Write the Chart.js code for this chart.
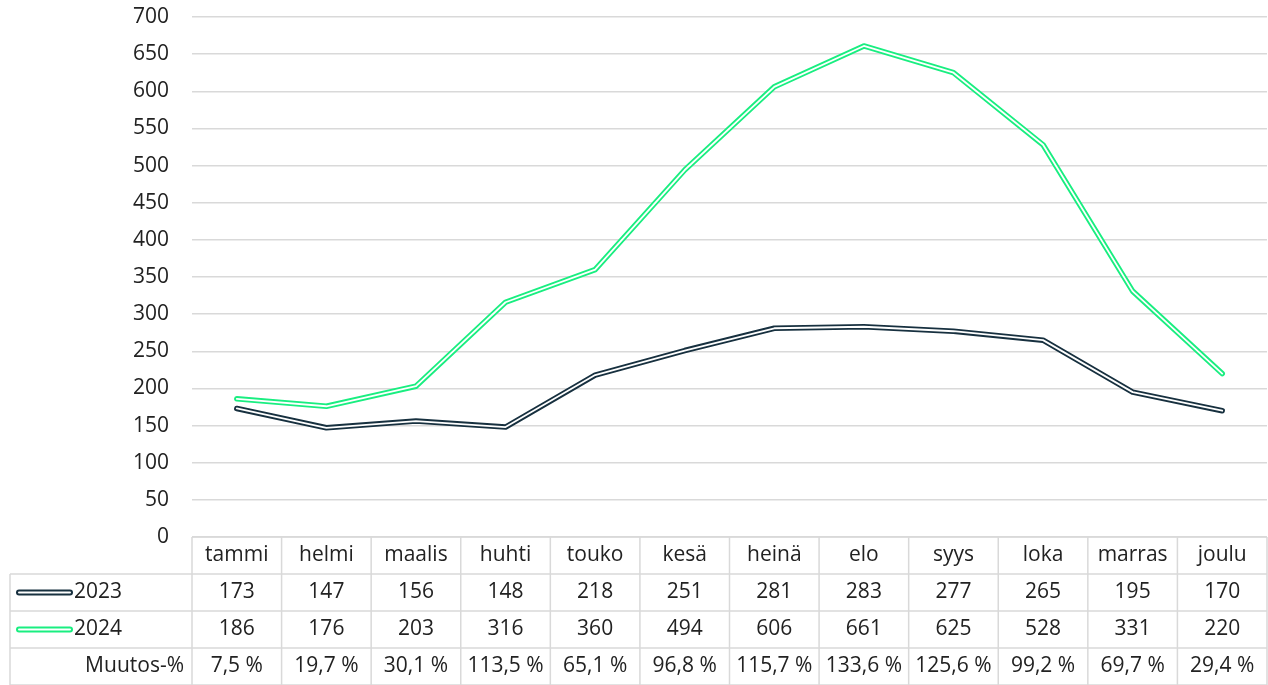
<!DOCTYPE html>
<html>
<head>
<meta charset="utf-8">
<script src="https://cdn.jsdelivr.net/npm/chart.js"></script>
<style>
  body { margin: 0; background: #fff; }
  #wrap { width: 1268px; height: 685px; position: relative; }
</style>
</head>
<body>
<div id="wrap"><canvas id="myChart"></canvas></div>
<script>
// data
var months = ['tammi', 'helmi', 'maalis', 'huhti', 'touko', 'kesä', 'heinä', 'elo', 'syys', 'loka', 'marras', 'joulu'];
var values2023 = [173, 147, 156, 148, 218, 251, 281, 283, 277, 265, 195, 170];
var values2024 = [186, 176, 203, 316, 360, 494, 606, 661, 625, 528, 331, 220];
var muutos = ['7,5 %', '19,7 %', '30,1 %', '113,5 %', '65,1 %', '96,8 %', '115,7 %', '133,6 %', '125,6 %', '99,2 %', '69,7 %', '29,4 %'];
var yTicks = [0, 50, 100, 150, 200, 250, 300, 350, 400, 450, 500, 550, 600, 650, 700];

var navy = '#17303f';
var green = '#19ee80';
var gridColor = '#d9d9d9';
var textColor = '#222222';
var fontFamily = '"Open Sans", Lato, sans-serif';

// draws the data table under the plot, Excel style
var tablePlugin = {
  id: 'dataTable',
  afterDraw: function(chart) {
    var ctx = chart.ctx;
    var x = chart.scales.x;
    var area = chart.chartArea;
    var left = area.left, right = area.right;
    var colW = (right - left) / months.length;
    var rows = [area.bottom, area.bottom + 37, area.bottom + 74, area.bottom + 111, area.bottom + 148];
    var tableLeft = 10;

    ctx.save();
    ctx.strokeStyle = gridColor;
    ctx.lineWidth = 1.5;
    ctx.beginPath();
    // horizontal lines
    ctx.moveTo(left, rows[0]); ctx.lineTo(right, rows[0]);
    for (var r = 1; r < rows.length; r++) {
      ctx.moveTo(tableLeft, rows[r]); ctx.lineTo(right, rows[r]);
    }
    // vertical lines
    for (var c = 0; c <= months.length; c++) {
      var cx = left + c * colW;
      ctx.moveTo(cx, rows[0]); ctx.lineTo(cx, rows[4]);
    }
    ctx.moveTo(tableLeft, rows[1]); ctx.lineTo(tableLeft, rows[4]);
    ctx.stroke();

    ctx.fillStyle = textColor;
    ctx.font = '21px ' + fontFamily;
    ctx.textBaseline = 'middle';
    ctx.textAlign = 'center';
    months.forEach(function(m, i) {
      var px = x.getPixelForValue(i);
      ctx.fillText(m, px, (rows[0] + rows[1]) / 2);
      ctx.fillText(String(values2023[i]), px, (rows[1] + rows[2]) / 2);
      ctx.fillText(String(values2024[i]), px, (rows[2] + rows[3]) / 2);
      ctx.fillText(muutos[i], px, (rows[3] + rows[4]) / 2);
    });

    // row headers with legend swatches
    var series = [[navy, '2023', rows[1]], [green, '2024', rows[2]]];
    series.forEach(function(s) {
      var cy = (s[2] + s[2] + 37) / 2;
      ctx.lineCap = 'round';
      ctx.strokeStyle = s[0];
      ctx.lineWidth = 6;
      ctx.beginPath(); ctx.moveTo(19, cy); ctx.lineTo(70, cy); ctx.stroke();
      ctx.strokeStyle = '#ffffff';
      ctx.lineWidth = 2;
      ctx.beginPath(); ctx.moveTo(19, cy); ctx.lineTo(70, cy); ctx.stroke();
      ctx.textAlign = 'left';
      ctx.fillStyle = textColor;
      ctx.fillText(s[1], 74, cy);
    });
    ctx.textAlign = 'right';
    ctx.fillText('Muutos-%', 184, (rows[3] + rows[4]) / 2);
    ctx.restore();
  }
};

function lineSet(label, data, color, width, order) {
  return {
    label: label,
    data: data,
    borderColor: color,
    backgroundColor: color,
    borderWidth: width,
    pointRadius: 0,
    tension: 0,
    borderJoinStyle: 'round',
    borderCapStyle: 'round',
    order: order
  };
}

var config = {
  type: 'line',
  data: {
    labels: months,
    datasets: [
      lineSet('2023', values2023, navy, 5.5, 3),
      lineSet('2023i', values2023, '#ffffff', 1.8, 2),
      lineSet('2024', values2024, green, 5.5, 1),
      lineSet('2024i', values2024, '#ffffff', 1.8, 0)
    ]
  },
  options: {
    responsive: true,
    maintainAspectRatio: false,
    animation: false,
    layout: { padding: { top: 17, bottom: 148, left: 0, right: 1 } },
    plugins: { legend: { display: false }, tooltip: { enabled: false } },
    scales: {
      x: {
        display: false,
        offset: true
      },
      y: {
        min: 0,
        max: 700,
        afterFit: function(scale) {
          scale.width = 192;
          scale.paddingTop = 0;
          scale.paddingBottom = 0;
        },
        afterBuildTicks: function(scale) {
          scale.ticks = yTicks.map(function(v) { return { value: v }; });
        },
        grid: { color: gridColor, lineWidth: 1.5, drawTicks: false },
        border: { display: false },
        ticks: {
          padding: 23,
          color: textColor,
          font: { family: fontFamily, size: 21 }
        }
      }
    }
  },
  plugins: [tablePlugin]
};

var myChart = new Chart(document.getElementById('myChart'), config);
</script>
</body>
</html>
